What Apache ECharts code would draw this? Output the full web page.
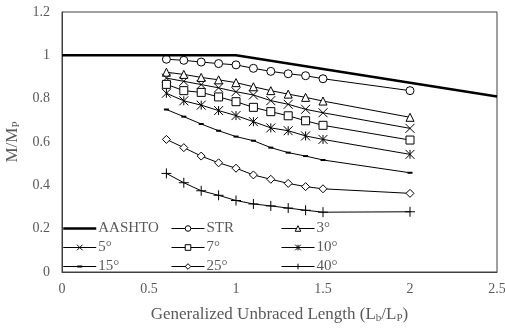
<!DOCTYPE html>
<html>
<head>
<meta charset="utf-8">
<script src="https://cdn.jsdelivr.net/npm/echarts@6/dist/echarts.min.js"></script>
<style>
  html, body { margin: 0; padding: 0; background: #fff; }
  #chart { width: 505px; height: 332px; }
</style>
</head>
<body>
<div id="chart"></div>
<script>
// generalized unbraced length Lb/Lp
const lengths = [0.6, 0.7, 0.8, 0.9, 1.0, 1.1, 1.2, 1.3, 1.4, 1.5, 2.0];

const aashtoX = [0, 1, 2.5];
const aashtoY = [1, 1, 0.81];

const str = [0.982, 0.977, 0.969, 0.962, 0.956, 0.940, 0.926, 0.915, 0.906, 0.892, 0.837];
const deg3 = [0.922, 0.912, 0.898, 0.887, 0.874, 0.855, 0.837, 0.821, 0.806, 0.789, 0.714];
const deg5 = [0.895, 0.880, 0.865, 0.850, 0.832, 0.817, 0.791, 0.774, 0.751, 0.735, 0.663];
const deg7 = [0.866, 0.837, 0.829, 0.808, 0.786, 0.760, 0.740, 0.721, 0.698, 0.677, 0.609];
const deg10 = [0.825, 0.790, 0.770, 0.745, 0.722, 0.694, 0.665, 0.652, 0.628, 0.612, 0.543];
const deg15 = [0.750, 0.717, 0.683, 0.652, 0.625, 0.606, 0.574, 0.551, 0.535, 0.517, 0.458];
const deg25 = [0.612, 0.574, 0.535, 0.504, 0.479, 0.448, 0.428, 0.409, 0.394, 0.384, 0.363];
const deg40 = [0.455, 0.412, 0.375, 0.354, 0.330, 0.314, 0.305, 0.295, 0.285, 0.276, 0.278];

const xTicks = { min: 0, max: 2.5, interval: 0.5 };
const yTicks = { min: 0, max: 1.2, interval: 0.2 };

const serif = 'Liberation Serif';
const grey = '#595959';

const symX = 'path://M0,0L10,10M10,0L0,10';
const symStar = 'path://M5,0L5,10M0,0L10,10M10,0L0,10';
const symPlus = 'path://M5,0L5,10M0,5L10,5';
// line with a small dash in the middle, fills the 33x7 legend box
const symDashIcon = 'path://M0,0M33,7M0,3h33v1h-33zM14,2.5h5v2h-5z';

function pairs(xs, ys) {
  return xs.map((x, i) => [x, ys[i]]);
}

function markerSeries(name, values, symbol, size, fill, border) {
  return {
    name: name,
    type: 'line',
    data: pairs(lengths, values),
    symbol: symbol,
    symbolSize: size,
    showAllSymbol: true,
    lineStyle: { color: '#000', width: 1 },
    itemStyle: { color: fill || '#fff', borderColor: '#000', borderWidth: border === undefined ? 1 : border },
    emphasis: { disabled: true },
    z: 3
  };
}

const legendBase = {
  orient: 'vertical',
  itemWidth: 33,
  itemHeight: 7,
  itemGap: 4,
  padding: 0,
  itemStyle: { borderWidth: 1 },
  lineStyle: { width: 1 },
  textStyle: { fontFamily: serif, fontSize: 15, color: grey, padding: [0, 0, 0, -3] },
  selectedMode: false
};

const subRich = {
  a: { fontFamily: serif, fontSize: 17, color: grey },
  s: { fontFamily: serif, fontSize: 11, color: grey, padding: [8, 0, 0, 0] }
};

const chart = echarts.init(document.getElementById('chart'));
chart.setOption({
  animation: false,
  grid: {
    left: 62, right: 8, top: 12, bottom: 60,
    outerBoundsMode: 'none',
    containLabel: false,
    show: true, borderColor: '#404040', borderWidth: 1
  },
  legend: [
    Object.assign({}, legendBase, {
      left: 62, top: 221,
      data: [
        { name: 'AASHTO', itemStyle: { opacity: 0 }, lineStyle: { width: 2.5 } },
        '5°',
        { name: '15°', icon: symDashIcon, itemStyle: { borderWidth: 0 } }
      ]
    }),
    Object.assign({}, legendBase, { left: 171, top: 221, data: ['STR', '7°', '25°'] }),
    Object.assign({}, legendBase, { left: 281, top: 221, data: ['3°', '10°', '40°'] })
  ],
  xAxis: {
    type: 'value',
    min: xTicks.min, max: xTicks.max, interval: xTicks.interval,
    splitLine: { show: false },
    axisTick: { show: false },
    axisLine: { lineStyle: { color: '#404040' } },
    axisLabel: { fontFamily: serif, fontSize: 14, color: grey, margin: 10 },
    name: '{a|Generalized Unbraced Length (L}{s|b}{a|/L}{s|P}{a|)}',
    nameLocation: 'middle',
    nameGap: 33,
    nameTextStyle: { rich: subRich }
  },
  yAxis: {
    type: 'value',
    min: yTicks.min, max: yTicks.max, interval: yTicks.interval,
    splitLine: { show: false },
    axisTick: { show: false },
    axisLine: { show: true, lineStyle: { color: '#404040' } },
    axisLabel: { fontFamily: serif, fontSize: 14, color: grey, margin: 12 },
    name: '{a|M/M}{s|P}',
    nameLocation: 'middle',
    nameGap: 36,
    nameTextStyle: { rich: subRich }
  },
  series: [
    {
      name: 'AASHTO',
      type: 'line',
      data: pairs(aashtoX, aashtoY),
      symbol: 'none',
      lineStyle: { color: '#000', width: 2.5 },
      itemStyle: { color: '#000' },
      emphasis: { disabled: true },
      z: 4
    },
    markerSeries('STR', str, 'circle', 8),
    markerSeries('3°', deg3, 'triangle', 8),
    markerSeries('5°', deg5, symX, 9),
    markerSeries('7°', deg7, 'rect', 8),
    markerSeries('10°', deg10, symStar, 9),
    markerSeries('15°', deg15, 'rect', [5, 2], '#000', 0),
    markerSeries('25°', deg25, 'diamond', 8),
    markerSeries('40°', deg40, symPlus, 10)
  ]
});
</script>
</body>
</html>
